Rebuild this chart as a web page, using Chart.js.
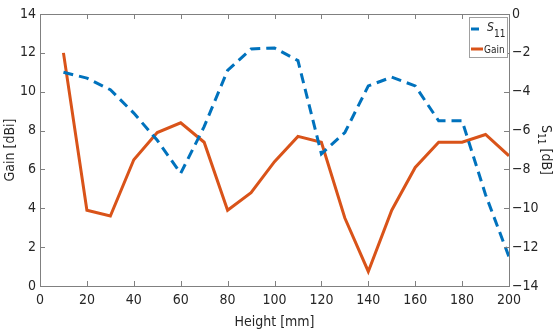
<!DOCTYPE html>
<html>
<head>
<meta charset="UTF-8">
<title>Gain and S11 vs Height</title>
<script src="https://cdn.jsdelivr.net/npm/chart.js"></script>
<style>
  html, body { margin: 0; padding: 0; background: #fff; }
  #wrap { width: 554px; height: 331px; }
</style>
</head>
<body>
<div id="wrap"><canvas id="chart"></canvas></div>
<script>
  const heights = [10, 20, 30, 40, 50, 60, 70, 80, 90, 100, 110, 120, 130, 140, 150, 160, 170, 180, 190, 200];
  const s11 = [-3.0, -3.3, -3.9, -5.1, -6.5, -8.2, -5.8, -2.9, -1.8, -1.75, -2.4, -7.2, -6.1, -3.7, -3.25, -3.7, -5.5, -5.5, -9.3, -12.5];
  const gain = [12.0, 3.9, 3.6, 6.5, 7.9, 8.4, 7.4, 3.9, 4.8, 6.4, 7.7, 7.4, 3.5, 0.75, 3.9, 6.1, 7.4, 7.4, 7.8, 6.7];

  const FONT = '"Liberation Sans Narrow", "DejaVu Sans Condensed", sans-serif';
  const AXIS = '#808080';
  const TEXT = '#262626';
  const BLUE = '#0072BD';
  const ORANGE = '#D95319';

  // inward ticks, top border, legend and right axis title
  const decorations = {
    id: 'decorations',
    afterDraw(chart) {
      const ctx = chart.ctx;
      const a = chart.chartArea;
      const { x, y, y1 } = chart.scales;
      ctx.save();
      ctx.strokeStyle = AXIS;
      ctx.lineWidth = 1;
      ctx.beginPath();
      ctx.moveTo(a.left, Math.round(a.top) + 0.5);
      ctx.lineTo(a.right, Math.round(a.top) + 0.5);
      x.ticks.forEach(t => {
        const px = Math.round(x.getPixelForValue(t.value)) + 0.5;
        ctx.moveTo(px, a.bottom); ctx.lineTo(px, a.bottom - 5);
        ctx.moveTo(px, a.top); ctx.lineTo(px, a.top + 5);
      });
      y.ticks.forEach(t => {
        const py = Math.round(y.getPixelForValue(t.value)) + 0.5;
        ctx.moveTo(a.left, py); ctx.lineTo(a.left + 5, py);
      });
      y1.ticks.forEach(t => {
        const py = Math.round(y1.getPixelForValue(t.value)) + 0.5;
        ctx.moveTo(a.right, py); ctx.lineTo(a.right - 5, py);
      });
      ctx.stroke();

      // legend box
      const lx = 469, ly = 17, lw = 38, lh = 40;
      ctx.fillStyle = '#fff';
      ctx.fillRect(lx, ly, lw, lh);
      ctx.strokeStyle = '#a0a0a0';
      ctx.strokeRect(lx + 0.5, ly + 0.5, lw, lh);
      ctx.lineWidth = 3;
      ctx.strokeStyle = BLUE;
      ctx.beginPath(); ctx.moveTo(471, 29); ctx.lineTo(479, 29); ctx.stroke();
      ctx.strokeStyle = ORANGE;
      ctx.beginPath(); ctx.moveTo(471, 49); ctx.lineTo(483, 49); ctx.stroke();
      ctx.fillStyle = TEXT;
      ctx.textBaseline = 'alphabetic';
      ctx.textAlign = 'left';
      ctx.font = 'italic 12px ' + FONT;
      ctx.fillText('S', 487, 31);
      ctx.font = '10px ' + FONT;
      ctx.fillText('11', 494, 37);
      ctx.font = '10px ' + FONT;
      ctx.fillText('Gain', 484, 53);

      // right axis title, reading top to bottom
      ctx.translate(546, (a.top + a.bottom) / 2);
      ctx.rotate(Math.PI / 2);
      ctx.fillStyle = TEXT;
      ctx.textBaseline = 'middle';
      ctx.font = '14px ' + FONT;
      const w1 = ctx.measureText('S').width;
      ctx.font = '10px ' + FONT;
      const w2 = ctx.measureText('11').width;
      ctx.font = '14px ' + FONT;
      const w3 = ctx.measureText(' [dB]').width;
      let cx = -(w1 + w2 + w3) / 2;
      ctx.fillText('S', cx, 0); cx += w1;
      ctx.font = '10px ' + FONT;
      ctx.fillText('11', cx, 5); cx += w2;
      ctx.font = '14px ' + FONT;
      ctx.fillText(' [dB]', cx, 0);
      ctx.restore();
    }
  };

  new Chart(document.getElementById('chart'), {
    type: 'line',
    data: {
      labels: heights,
      datasets: [{
        label: 'S11',
        data: s11,
        yAxisID: 'y1',
        borderColor: BLUE,
        borderWidth: 3,
        borderDash: [10, 6],
        pointRadius: 0,
        tension: 0,
        fill: false
      }, {
        label: 'Gain',
        data: gain,
        yAxisID: 'y',
        borderColor: ORANGE,
        borderWidth: 3,
        pointRadius: 0,
        tension: 0,
        fill: false
      }]
    },
    options: {
      responsive: true,
      maintainAspectRatio: false,
      animation: false,
      layout: { padding: { top: 14, left: 0, right: 0, bottom: 0 } },
      plugins: { legend: { display: false }, tooltip: { enabled: false } },
      scales: {
        x: {
          type: 'linear',
          min: 0, max: 200,
          ticks: { stepSize: 20, color: TEXT, font: { family: FONT, size: 14 }, padding: 6, maxRotation: 0 },
          grid: { display: false, drawTicks: false },
          border: { display: true, color: AXIS },
          title: { display: true, text: 'Height [mm]', color: TEXT, font: { family: FONT, size: 14 }, padding: { top: 0, bottom: 0 } },
          afterFit(s) { s.height = 45; }
        },
        y: {
          position: 'left',
          min: 0, max: 14,
          ticks: { stepSize: 2, color: TEXT, font: { family: FONT, size: 14 }, padding: 4 },
          grid: { display: false, drawTicks: false },
          border: { display: true, color: AXIS },
          title: { display: true, text: 'Gain [dBi]', color: TEXT, font: { family: FONT, size: 14 }, padding: { top: 2, bottom: 0 } },
          afterFit(s) { s.width = 40; }
        },
        y1: {
          position: 'right',
          min: -14, max: 0,
          ticks: { stepSize: 2, color: TEXT, font: { family: FONT, size: 14 }, padding: 3,
                   callback: v => String(v).replace('-', '\u2212') },
          grid: { display: false, drawTicks: false },
          border: { display: true, color: AXIS },
          afterFit(s) { s.width = 45; }
        }
      }
    },
    plugins: [decorations]
  });
</script>
</body>
</html>
